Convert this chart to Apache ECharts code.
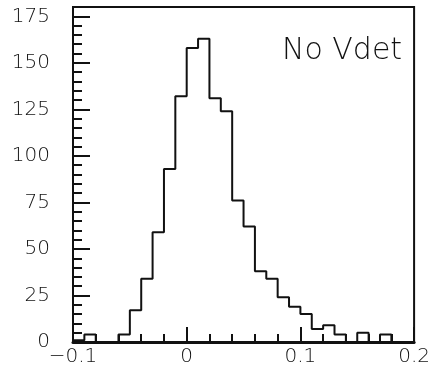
<!DOCTYPE html>
<html>
<head>
<meta charset="utf-8">
<script src="https://cdn.jsdelivr.net/npm/echarts@6/dist/echarts.min.js"></script>
<style>
  html, body { margin: 0; padding: 0; background: #fff; }
  #chart { width: 433px; height: 378px; }
</style>
</head>
<body>
<div id="chart"></div>
<script>
// Histogram bins (left edges) and counts
const binLeftEdges = [-0.10, -0.09, -0.08, -0.07, -0.06, -0.05, -0.04, -0.03, -0.02, -0.01,
                       0.00,  0.01,  0.02,  0.03,  0.04,  0.05,  0.06,  0.07,  0.08,  0.09,
                       0.10,  0.11,  0.12,  0.13,  0.14,  0.15,  0.16,  0.17,  0.18,  0.19];
const binRightEnd = 0.20;
const counts = [1, 4, 0, 0, 4, 17, 34, 59, 93, 132,
                158, 163, 131, 124, 76, 62, 38, 34, 24, 19,
                15, 7, 9, 4, 0, 5, 0, 4, 0, 0];
const xTickLabels = ['\u22120.1', '0', '0.1', '0.2'];
const yTickLabels = ['0', '25', '50', '75', '100', '125', '150', '175'];
const labelText = 'No Vdet';

const stepData = binLeftEdges.map((x, i) => [x, counts[i]]);
stepData.push([binRightEnd, 0]);

const chart = echarts.init(document.getElementById('chart'), null, { renderer: 'canvas' });
const font = 'DejaVu Sans';
chart.setOption({
  animation: false,
  backgroundColor: '#fff',
  title: {
    text: labelText,
    left: 282, top: 36, padding: 0,
    textStyle: { fontFamily: font, fontSize: 30, fontWeight: 200, color: '#111' }
  },
  grid: {
    left: 73, right: 18, top: 7, bottom: 36,
    show: true, borderColor: '#111', borderWidth: 2, backgroundColor: 'transparent'
  },
  xAxis: {
    type: 'value', min: -0.1, max: 0.2, interval: 0.1,
    axisLine: { show: true, onZero: false, lineStyle: { color: '#111', width: 3 } },
    axisTick: { show: true, inside: true, length: 15, lineStyle: { color: '#111', width: 2 } },
    minorTick: { show: true, splitNumber: 5, length: 8, lineStyle: { color: '#111', width: 2 } },
    splitLine: { show: false },
    axisLabel: {
      margin: 5, color: '#111', fontFamily: font, fontSize: 20, fontWeight: 200,
      formatter: (v, i) => xTickLabels[i] !== undefined ? xTickLabels[i] : ''
    }
  },
  yAxis: {
    type: 'value', min: 0, max: 180, interval: 25,
    axisLine: { show: true, onZero: false, lineStyle: { color: '#111', width: 2 } },
    axisTick: { show: true, inside: true, length: 17, lineStyle: { color: '#111', width: 2 } },
    minorTick: { show: true, splitNumber: 5, length: 9, lineStyle: { color: '#111', width: 2 } },
    splitLine: { show: false },
    axisLabel: {
      margin: 23, color: '#111', fontFamily: font, fontSize: 20, fontWeight: 200,
      showMaxLabel: false,
      formatter: (v, i) => yTickLabels[i] !== undefined ? yTickLabels[i] : ''
    }
  },
  series: [{
    type: 'line',
    step: 'end',
    data: stepData,
    symbol: 'none',
    lineStyle: { color: '#111', width: 2 },
    z: 5
  }]
});
</script>
</body>
</html>
